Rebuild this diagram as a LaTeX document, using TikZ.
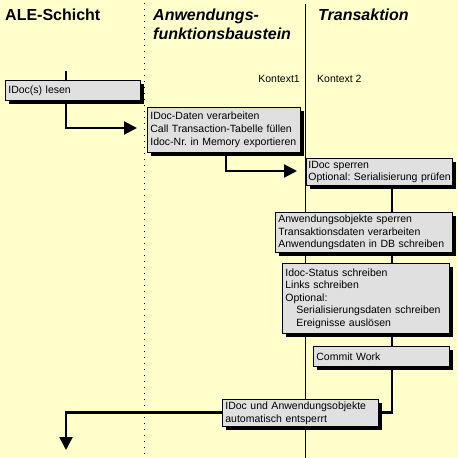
\documentclass[tikz,border=0pt]{standalone}
\usepackage{fontspec}
\setmainfont{Liberation Sans}
\usetikzlibrary{arrows.meta,shadows}
\definecolor{bgyellow}{RGB}{255,255,204}
\definecolor{boxgray}{RGB}{224,224,224}
\pgfdeclarelayer{bg}
\pgfdeclarelayer{lines}
\pgfsetlayers{bg,lines,main}
\newcommand{\boxfont}[1]{\fontsize{10.5}{#1}\selectfont\frenchspacing\hyphenpenalty=10000\exhyphenpenalty=10000 }
\tikzset{
  stepbox/.style={draw=black, line width=0.8pt, fill=boxgray, anchor=north west, align=left,
    inner xsep=3pt, inner ysep=0pt, font=\boxfont{12.8},
    drop shadow={shadow xshift=3.5pt, shadow yshift=-3.5pt, fill=black, opacity=1}},
  flow/.style={line width=2.2pt, draw=black},
  tip/.style={-{Triangle[length=13pt,width=13pt]}},
  title/.style={anchor=base west, font=\fontsize{16}{19.5}\selectfont\bfseries, inner sep=0pt},
  ititle/.style={title, font=\fontsize{16}{19.5}\selectfont\bfseries\itshape},
  ctx/.style={font=\fontsize{10.5}{12.8}\selectfont, inner sep=0pt}
}
\begin{document}
\begin{tikzpicture}[x=1pt,y=-1pt]
\useasboundingbox (0,0) rectangle (458,458);
\begin{pgfonlayer}{bg}
  \fill[bgyellow] (0,0) rectangle (458,458);
\end{pgfonlayer}
\begin{pgfonlayer}{lines}
  \draw[line width=1pt, dash pattern=on 1pt off 5pt] (144,3) -- (144,458);
  \draw[line width=1pt] (305,4) -- (305,458);
\end{pgfonlayer}

% titles
\node[title] (t1) at (5,20) {ALE-Schicht};
\node[ititle] (t2a) at (153,20) {Anwendungs-};
\node[ititle] (t2b) at (153,39.5) {funktionsbaustein};
\node[ititle] (t3) at (318,20) {Transaktion};
\node[ctx, anchor=base east] (k1) at (300,82) {Kontext1};
\node[ctx, anchor=base west] (k2) at (317,82) {Kontext 2};

% boxes
\node[stepbox, text width=129pt, minimum height=20pt] (b1) at (5,80) {IDoc(s) lesen};
\node[stepbox, text width=147pt, minimum height=45pt, font=\boxfont{13.3}] (b2) at (147,107)
  {IDoc-Daten verarbeiten\\Call Transaction-Tabelle füllen\\Idoc-Nr. in Memory exportieren};
\node[stepbox, text width=142pt, inner xsep=2pt, minimum height=27pt] (b3) at (306,158)
  {IDoc sperren\\\mbox{Optional: Serialisierung prüfen}};
\node[stepbox, text width=171pt, minimum height=40pt] (b4) at (275,212)
  {Anwendungsobjekte sperren\\Transaktionsdaten verarbeiten\\Anwendungsdaten in DB schreiben};
\node[stepbox, text width=161pt, minimum height=70pt, font=\boxfont{12.5}] (b5) at (282,263)
  {Idoc-Status schreiben\\Links schreiben\\Optional:\\\hspace*{11pt}Serialisierungsdaten schreiben\\\hspace*{11pt}Ereignisse auslösen};
\node[stepbox, text width=130pt, minimum height=20pt] (b6) at (313,346) {Commit Work};
\node[stepbox, text width=150pt, minimum height=27pt] (b7) at (222,399)
  {IDoc und Anwendungsobjekte\\automatisch entsperrt};

% connector points
\coordinate (s0) at (66,71);
\coordinate (j1) at (66,128);
\coordinate (a1) at (137,128);
\coordinate (j2) at (226,171);
\coordinate (a2) at (297,171);
\coordinate (j3) at (392,412.5);
\coordinate (j4) at (66,412.5);
\coordinate (a3) at (66,450);

\begin{pgfonlayer}{lines}
  \draw[flow] (s0) -- (b1.center -| s0);
  \draw[flow, tip] (b1.center -| s0) -- (j1) -- (a1);
  \draw[flow, tip] (b2.center -| j2) -- (j2) -- (a2);
  \draw[flow] (b3.center -| j3) -- (j3) -- (b7.center |- j3);
  \draw[flow, tip] (b7.center |- j4) -- (j4) -- (a3);
\end{pgfonlayer}
\end{tikzpicture}
\end{document}
